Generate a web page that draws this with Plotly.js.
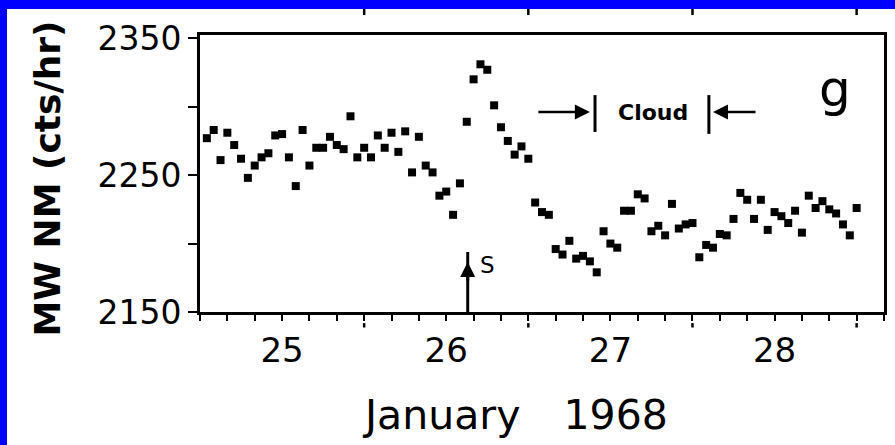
<!DOCTYPE html>
<html><head><meta charset="utf-8">
<script src="https://cdn.plot.ly/plotly-3.0.1.min.js"></script>
<style>
html,body{margin:0;padding:0;background:#0000ff;width:895px;height:445px;overflow:hidden;}
#chart{position:absolute;left:7px;top:9px;width:888px;height:436px;background:#fff;}
</style></head><body><div id="chart"></div>
<script>
// Hourly times (UT), 24 Jan 13:00 to 28 Jan 12:00, 1968
const times = [
"1968-01-24 13:00","1968-01-24 14:00","1968-01-24 15:00","1968-01-24 16:00","1968-01-24 17:00","1968-01-24 18:00",
"1968-01-24 19:00","1968-01-24 20:00","1968-01-24 21:00","1968-01-24 22:00","1968-01-24 23:00",
"1968-01-25 00:00","1968-01-25 01:00","1968-01-25 02:00","1968-01-25 03:00","1968-01-25 04:00","1968-01-25 05:00",
"1968-01-25 06:00","1968-01-25 07:00","1968-01-25 08:00","1968-01-25 09:00","1968-01-25 10:00","1968-01-25 11:00",
"1968-01-25 12:00","1968-01-25 13:00","1968-01-25 14:00","1968-01-25 15:00","1968-01-25 16:00","1968-01-25 17:00",
"1968-01-25 18:00","1968-01-25 19:00","1968-01-25 20:00","1968-01-25 21:00","1968-01-25 22:00","1968-01-25 23:00",
"1968-01-26 00:00","1968-01-26 01:00","1968-01-26 02:00","1968-01-26 03:00","1968-01-26 04:00","1968-01-26 05:00",
"1968-01-26 06:00","1968-01-26 07:00","1968-01-26 08:00","1968-01-26 09:00","1968-01-26 10:00","1968-01-26 11:00",
"1968-01-26 12:00","1968-01-26 13:00","1968-01-26 14:00","1968-01-26 15:00","1968-01-26 16:00","1968-01-26 17:00",
"1968-01-26 18:00","1968-01-26 19:00","1968-01-26 20:00","1968-01-26 21:00","1968-01-26 22:00","1968-01-26 23:00",
"1968-01-27 00:00","1968-01-27 01:00","1968-01-27 02:00","1968-01-27 03:00","1968-01-27 04:00","1968-01-27 05:00",
"1968-01-27 06:00","1968-01-27 07:00","1968-01-27 08:00","1968-01-27 09:00","1968-01-27 10:00","1968-01-27 11:00",
"1968-01-27 12:00","1968-01-27 13:00","1968-01-27 14:00","1968-01-27 15:00","1968-01-27 16:00","1968-01-27 17:00",
"1968-01-27 18:00","1968-01-27 19:00","1968-01-27 20:00","1968-01-27 21:00","1968-01-27 22:00","1968-01-27 23:00",
"1968-01-28 00:00","1968-01-28 01:00","1968-01-28 02:00","1968-01-28 03:00","1968-01-28 04:00","1968-01-28 05:00",
"1968-01-28 06:00","1968-01-28 07:00","1968-01-28 08:00","1968-01-28 09:00","1968-01-28 10:00","1968-01-28 11:00",
"1968-01-28 12:00"];

// Mt. Washington neutron monitor counts (cts/hr)
const counts = [
2277,2283,2261,2281,2272,2262,2248,2257,2263,2266,2279,
2280,2263,2242,2283,2257,2270,2270,2278,2272,2269,2293,2263,
2270,2263,2279,2270,2281,2267,2282,2252,2278,2257,2252,2235,
2238,2221,2244,2289,2320,2331,2327,2301,2285,2275,2265,2271,
2262,2230,2223,2221,2196,2192,2202,2189,2191,2187,2179,2209,
2200,2197,2224,2224,2236,2233,2209,2213,2206,2229,2211,2214,
2215,2190,2199,2197,2207,2206,2218,2237,2232,2218,2232,2210,
2223,2220,2215,2224,2208,2235,2226,2231,2225,2222,2214,2206,
2226];

const yTickVals = [2150, 2200, 2250, 2300, 2350];
const yTickText = ["2150", "", "2250", "", "2350"];
const dayTickVals = ["1968-01-25", "1968-01-26", "1968-01-27", "1968-01-28"];
const dayTickText = ["25", "26", "27", "28"];
const noonTicks = ["1968-01-25 12:00", "1968-01-26 12:00", "1968-01-27 12:00", "1968-01-28 12:00"];

const F = "DejaVu Sans";
const shapes = [];
noonTicks.forEach(t => {
  shapes.push({type:"line", xref:"x", yref:"paper", x0:t, x1:t, y0:-0.040, y1:-0.056, line:{color:"#000", width:2.5}});
  shapes.push({type:"line", xref:"x", yref:"paper", x0:t, x1:t, y0:1.094, y1:1.072, line:{color:"#000", width:2.5}});
});
// cloud boundary bars
shapes.push({type:"line", xref:"paper", yref:"paper", x0:0.5775, x1:0.5775, y0:0.783, y1:0.650, line:{color:"#000", width:3}});
shapes.push({type:"line", xref:"paper", yref:"paper", x0:0.744, x1:0.744, y0:0.783, y1:0.643, line:{color:"#000", width:3}});
// SSC line
shapes.push({type:"line", xref:"paper", yref:"paper", x0:0.3914, x1:0.3914, y0:0, y1:0.2166, line:{color:"#000", width:3}});

const annotations = [
  {text:"<span style=\"word-spacing:30px\">January 1968</span>", xref:"paper", yref:"paper", x:0.4605, y:-0.372, xanchor:"center", yanchor:"middle", showarrow:false, font:{family:F, size:41, color:"#000"}},
  {text:"MW NM (cts/hr)", xref:"paper", yref:"paper", x:-0.2237, y:0.482, xanchor:"center", yanchor:"middle", textangle:-90, showarrow:false, font:{family:F, size:36, weight:700, color:"#000"}},
  {text:"g", xref:"paper", yref:"paper", x:0.928, y:0.805, xanchor:"center", yanchor:"middle", showarrow:false, font:{family:F, size:50, color:"#000"}},
  {text:"Cloud", xref:"paper", yref:"paper", x:0.6623, y:0.722, xanchor:"center", yanchor:"middle", showarrow:false, font:{family:F, size:22, weight:700, color:"#000"}},
  {text:"S", xref:"paper", yref:"paper", x:0.421, y:0.17, xanchor:"center", yanchor:"middle", showarrow:false, font:{family:F, size:23, color:"#000"}},
  {text:"", xref:"paper", yref:"paper", x:0.570, y:0.722, ax:-53, ay:0, showarrow:true, arrowhead:2, arrowsize:1.2, arrowwidth:2.5, arrowcolor:"#000", standoff:0},
  {text:"", xref:"paper", yref:"paper", x:0.750, y:0.722, ax:44, ay:0, showarrow:true, arrowhead:2, arrowsize:1.2, arrowwidth:2.5, arrowcolor:"#000", standoff:0},
  {text:"", xref:"paper", yref:"paper", x:0.3914, y:0.1805, ax:0, ay:20, showarrow:true, arrowhead:2, arrowsize:1, arrowwidth:3, arrowcolor:"#000", standoff:0}
];

const trace = {
  x: times, y: counts, type:"scatter", mode:"markers",
  marker:{symbol:"square", size:8, color:"#000"}, hoverinfo:"skip"
};

const layout = {
  width:888, height:436,
  margin:{l:193, r:11, t:26, b:133},
  paper_bgcolor:"#fff", plot_bgcolor:"#fff",
  showlegend:false,
  xaxis:{
    type:"date", range:["1968-01-24 12:00", "1968-01-28 16:00"],
    tickmode:"array", tickvals:dayTickVals, ticktext:dayTickText,
    ticks:"outside", ticklen:6, tickwidth:2, tickcolor:"#000",
    showline:true, linewidth:3, linecolor:"#000", mirror:true,
    showgrid:false, zeroline:false,
    tickfont:{family:F, size:34, color:"#000"},
    minor:{tick0:"1968-01-24 12:00", dtick:4*3600000, ticks:"outside", ticklen:6, tickwidth:2, tickcolor:"#000", showgrid:false}
  },
  yaxis:{
    range:[2150, 2352.4],
    tickmode:"array", tickvals:yTickVals, ticktext:yTickText,
    ticks:"outside", ticklen:9, tickwidth:2, tickcolor:"#000",
    showline:true, linewidth:3, linecolor:"#000", mirror:true,
    showgrid:false, zeroline:false,
    tickfont:{family:F, size:33, color:"#000"}
  },
  shapes:shapes, annotations:annotations
};

Plotly.newPlot("chart", [trace], layout, {displayModeBar:false, staticPlot:true});
</script></body></html>
